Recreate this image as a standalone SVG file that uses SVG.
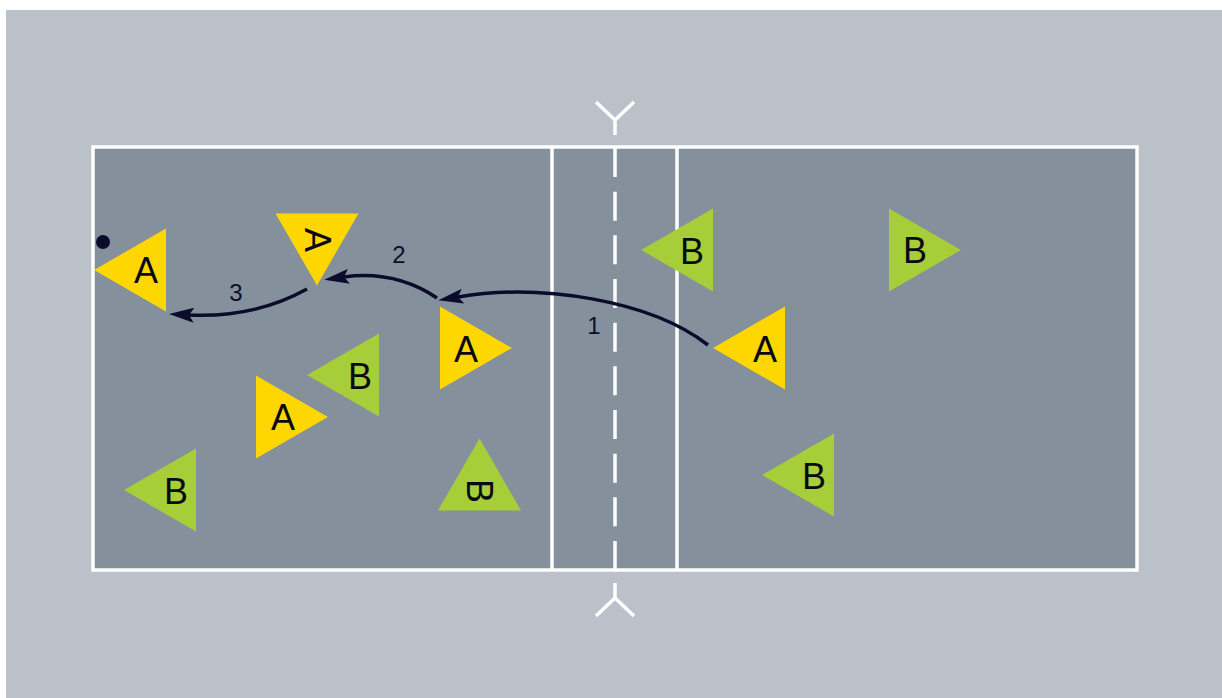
<svg xmlns="http://www.w3.org/2000/svg" width="1222" height="698" viewBox="0 0 1222 698">
<style>
.line{stroke:#ffffff;stroke-width:3.5;fill:none}
.yel{fill:#FFD700}
.grn{fill:#A6CE39}
.lbl{font-family:"Liberation Sans",Arial,sans-serif;font-size:36px;fill:#0a0a14;text-anchor:middle}
.num{font-family:"Liberation Sans",Arial,sans-serif;font-size:24px;fill:#0d0d2b;text-anchor:middle}
.arr{stroke:#0b0b2b;stroke-width:3.5;fill:none;marker-end:url(#head)}
</style>
<defs>
<polygon id="tri" points="-24,-41.5 47.9,0 -24,41.5"/>
<marker id="head" markerUnits="userSpaceOnUse" viewBox="0 0 25 15" markerWidth="25" markerHeight="15" refX="5" refY="7.5" orient="auto">
<path d="M0,0 L25,7.5 L0,15 L5,7.5 z" fill="#0b0b2b"/>
</marker>
</defs>
<rect x="0" y="0" width="1222" height="698" fill="#ffffff"/>
<rect x="6" y="10" width="1216" height="688" fill="#BBC1C8"/>
<g id="court">
<rect x="93" y="147" width="1044" height="423" fill="#84919C"/>
<rect x="93" y="147" width="1044" height="423" class="line"/>
<line x1="552" y1="147" x2="552" y2="570" class="line"/>
<line x1="677" y1="147" x2="677" y2="570" class="line"/>
<line x1="615" y1="148" x2="615" y2="569" class="line" stroke-dasharray="29 14.67"/>
<path d="M596,102 L615,120 L634,102 M615,120 L615,135" class="line"/>
<path d="M596,616 L615,598 L634,616 M615,598 L615,583" class="line"/>
</g>
<g id="ball"><circle cx="103" cy="242" r="7" fill="#0b0b2b"/></g>
<g id="n1"><use href="#tri" class="yel" transform="translate(142,270) rotate(180)"/><text class="lbl" x="146" y="283">A</text></g>
<g id="n2"><use href="#tri" class="yel" transform="translate(317,237.5) rotate(90)"/><text class="lbl" transform="translate(318,240) rotate(90)" x="0" y="13">A</text></g>
<g id="n3"><use href="#tri" class="grn" transform="translate(689,250) rotate(180)"/><text class="lbl" x="692" y="264">B</text></g>
<g id="n4"><use href="#tri" class="grn" transform="translate(913,250)"/><text class="lbl" x="915" y="263">B</text></g>
<g id="n5"><use href="#tri" class="yel" transform="translate(761,348) rotate(180)"/><text class="lbl" x="765" y="362">A</text></g>
<g id="n6"><use href="#tri" class="yel" transform="translate(464,348)"/><text class="lbl" x="466" y="362">A</text></g>
<g id="n7"><use href="#tri" class="grn" transform="translate(355,375) rotate(180)"/><text class="lbl" x="360" y="389">B</text></g>
<g id="n8"><use href="#tri" class="yel" transform="translate(280,417)"/><text class="lbl" x="283" y="430">A</text></g>
<g id="n9"><use href="#tri" class="grn" transform="translate(172,490) rotate(180)"/><text class="lbl" x="176" y="504">B</text></g>
<g id="n10"><use href="#tri" class="grn" transform="translate(479.5,486.5) rotate(-90)"/><text class="lbl" transform="translate(479.5,491) rotate(90)" x="0" y="13">B</text></g>
<g id="n11"><use href="#tri" class="grn" transform="translate(810,475) rotate(180)"/><text class="lbl" x="814" y="489">B</text></g>
<g id="connectors">
<path class="arr" d="M708,345 C650,300 540,283 458,297"/>
<path class="arr" d="M437,298 Q395,270 344,277"/>
<path class="arr" d="M307,289 Q255,318 189,315"/>
<text class="num" x="594" y="334">1</text>
<text class="num" x="399" y="263">2</text>
<text class="num" x="236" y="301">3</text>
</g>
</svg>
